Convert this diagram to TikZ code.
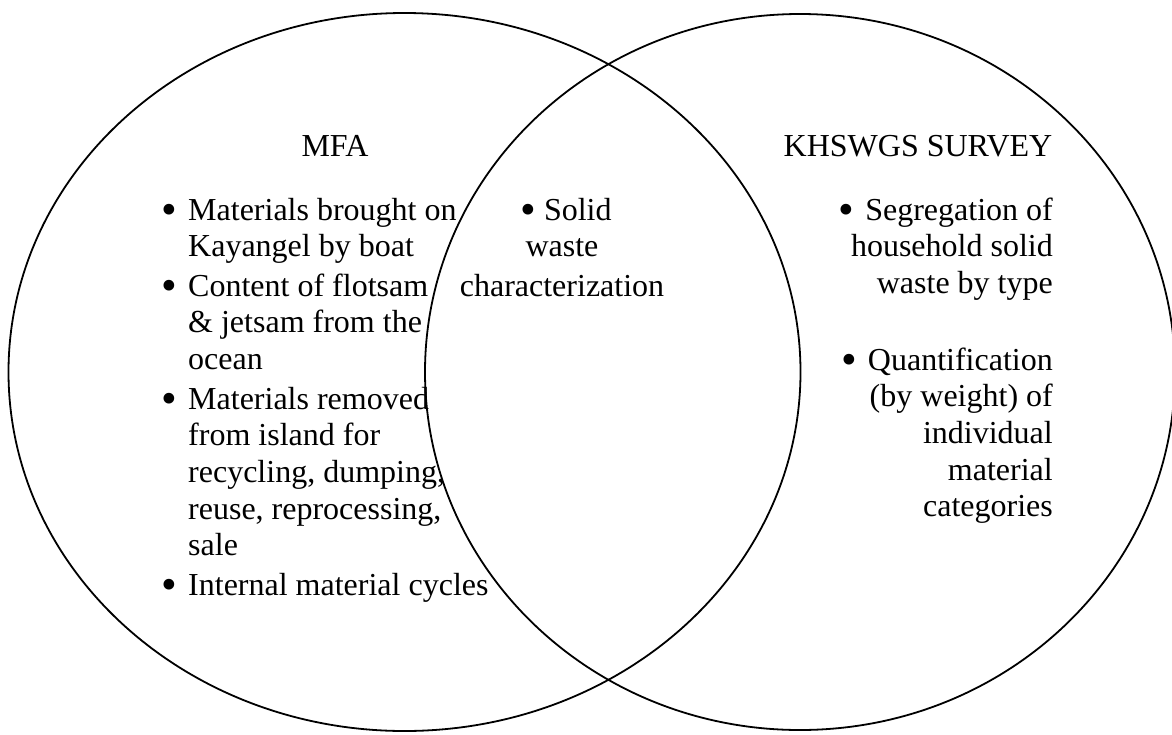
\documentclass[tikz,border=0pt]{standalone}
\usepackage{fontspec}
\setmainfont{Liberation Serif}
\newcommand{\bigdot}{\raisebox{-4pt}{\scalebox{1.4}{•}}}
\newcommand{\blt}{\llap{\bigdot\hspace{11pt}}}
\begin{document}
\begin{tikzpicture}[x=1pt,y=-1pt,
  txt/.style={font=\fontsize{32}{36.7}\selectfont, inner sep=0pt},
  ln/.style={txt, anchor=base west},
  rln/.style={txt, anchor=base east},
  cln/.style={txt, anchor=base},
  ring/.style={draw=black, line width=1.8pt}]
\useasboundingbox (0,0) rectangle (1172,734);
\clip (0,0) rectangle (1172,734);
% circles
\draw[ring] (404.5,372) ellipse [x radius=396, y radius=359];
\draw[ring] (800,372) ellipse [x radius=375, y radius=358];
% titles
\node[cln] (mfa) at (335,156) {MFA};
\node[cln] (khs) at (918,156) {KHSWGS SURVEY};
% left list
\node[ln] (l1) at (188,220) {\blt Materials brought on};
\node[ln] (l2) at (188,256.7) {Kayangel by boat};
\node[ln] (l3) at (188,296.2) {\blt Content of flotsam};
\node[ln] (l4) at (188,332.9) {\& jetsam from the};
\node[ln] (l5) at (188,369.6) {ocean};
\node[ln] (l6) at (188,409.1) {\blt Materials removed};
\node[ln] (l7) at (188,445.8) {from island for};
\node[ln] (l8) at (188,482.5) {recycling, dumping,};
\node[ln] (l9) at (188,519.2) {reuse, reprocessing,};
\node[ln] (l10) at (188,555.9) {sale};
\node[ln] (l11) at (188,595.4) {\blt Internal material cycles};
% middle
\node[cln] (m1) at (566,220) {\bigdot\hspace{8pt}Solid};
\node[cln] (m2) at (562,256.7) {waste};
\node[cln] (m3) at (562,296.2) {characterization};
% right list
\node[rln] (r1) at (1053,220) {\bigdot\hspace{11pt}Segregation of};
\node[rln] (r2) at (1053,256.7) {household solid};
\node[rln] (r3) at (1053,293.4) {waste by type};
\node[rln] (r4) at (1053,370) {\bigdot\hspace{11pt}Quantification};
\node[rln] (r5) at (1053,406.7) {(by weight) of};
\node[rln] (r6) at (1053,443.4) {individual};
\node[rln] (r7) at (1053,480.1) {material};
\node[rln] (r8) at (1053,516.8) {categories};
\end{tikzpicture}
\end{document}
